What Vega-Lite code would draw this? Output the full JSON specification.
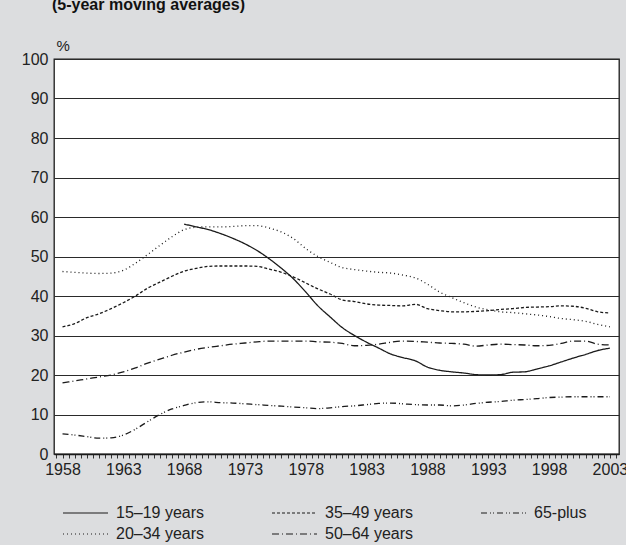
{
  "$schema": "https://vega.github.io/schema/vega-lite/v6.json",
  "autosize": {"type": "none"},
  "width": 565,
  "height": 395,
  "padding": {"left": 54, "top": 59, "right": 7, "bottom": 91},
  "background": "#dcdddf",
  "title": {
    "text": "(5-year moving averages)",
    "anchor": "start",
    "frame": "group",
    "offset": 25,
    "dx": -2,
    "font": "Liberation Sans",
    "fontSize": 16,
    "fontWeight": "bold",
    "color": "#111"
  },
  "config": {
    "view": {"stroke": "#1a1a1a", "strokeWidth": 1.3, "fill": "white"},
    "font": "Liberation Sans"
  },
  "data": {
    "values": [
      {"year":1958,"15–19 years":null,"20–34 years":46.2,"35–49 years":32.2,"50–64 years":18,"65-plus":5.1},
      {"year":1959,"15–19 years":null,"20–34 years":46,"35–49 years":33,"50–64 years":18.5,"65-plus":4.8},
      {"year":1960,"15–19 years":null,"20–34 years":45.8,"35–49 years":34.5,"50–64 years":19,"65-plus":4.4},
      {"year":1961,"15–19 years":null,"20–34 years":45.7,"35–49 years":35.5,"50–64 years":19.5,"65-plus":4},
      {"year":1962,"15–19 years":null,"20–34 years":45.8,"35–49 years":36.8,"50–64 years":20,"65-plus":4.1},
      {"year":1963,"15–19 years":null,"20–34 years":46.5,"35–49 years":38.3,"50–64 years":20.8,"65-plus":4.8},
      {"year":1964,"15–19 years":null,"20–34 years":48.3,"35–49 years":40,"50–64 years":21.8,"65-plus":6.3},
      {"year":1965,"15–19 years":null,"20–34 years":50.5,"35–49 years":42,"50–64 years":23,"65-plus":8.2},
      {"year":1966,"15–19 years":null,"20–34 years":52.8,"35–49 years":43.5,"50–64 years":24,"65-plus":10},
      {"year":1967,"15–19 years":null,"20–34 years":55,"35–49 years":45,"50–64 years":25,"65-plus":11.4},
      {"year":1968,"15–19 years":58.2,"20–34 years":56.8,"35–49 years":46.3,"50–64 years":25.8,"65-plus":12.3},
      {"year":1969,"15–19 years":57.5,"20–34 years":57.4,"35–49 years":47,"50–64 years":26.5,"65-plus":13},
      {"year":1970,"15–19 years":56.8,"20–34 years":57.5,"35–49 years":47.5,"50–64 years":27,"65-plus":13.2},
      {"year":1971,"15–19 years":55.8,"20–34 years":57.5,"35–49 years":47.6,"50–64 years":27.4,"65-plus":13},
      {"year":1972,"15–19 years":54.6,"20–34 years":57.6,"35–49 years":47.6,"50–64 years":27.8,"65-plus":12.9},
      {"year":1973,"15–19 years":53.2,"20–34 years":57.8,"35–49 years":47.6,"50–64 years":28.1,"65-plus":12.7},
      {"year":1974,"15–19 years":51.5,"20–34 years":57.8,"35–49 years":47.5,"50–64 years":28.4,"65-plus":12.5},
      {"year":1975,"15–19 years":49.4,"20–34 years":57.2,"35–49 years":46.8,"50–64 years":28.6,"65-plus":12.3},
      {"year":1976,"15–19 years":47,"20–34 years":56.2,"35–49 years":46,"50–64 years":28.6,"65-plus":12.1},
      {"year":1977,"15–19 years":44.3,"20–34 years":54.5,"35–49 years":44.8,"50–64 years":28.6,"65-plus":11.9},
      {"year":1978,"15–19 years":41,"20–34 years":52,"35–49 years":43.3,"50–64 years":28.6,"65-plus":11.7},
      {"year":1979,"15–19 years":37.5,"20–34 years":50,"35–49 years":41.8,"50–64 years":28.4,"65-plus":11.5},
      {"year":1980,"15–19 years":34.7,"20–34 years":48.5,"35–49 years":40.5,"50–64 years":28.3,"65-plus":11.7},
      {"year":1981,"15–19 years":32,"20–34 years":47.2,"35–49 years":39,"50–64 years":28,"65-plus":12},
      {"year":1982,"15–19 years":30,"20–34 years":46.7,"35–49 years":38.6,"50–64 years":27.4,"65-plus":12.2},
      {"year":1983,"15–19 years":28.3,"20–34 years":46.3,"35–49 years":38,"50–64 years":27.5,"65-plus":12.5},
      {"year":1984,"15–19 years":26.8,"20–34 years":46,"35–49 years":37.7,"50–64 years":27.8,"65-plus":12.8},
      {"year":1985,"15–19 years":25.3,"20–34 years":45.8,"35–49 years":37.6,"50–64 years":28.3,"65-plus":12.9},
      {"year":1986,"15–19 years":24.4,"20–34 years":45.3,"35–49 years":37.5,"50–64 years":28.6,"65-plus":12.7},
      {"year":1987,"15–19 years":23.6,"20–34 years":44.6,"35–49 years":37.9,"50–64 years":28.5,"65-plus":12.5},
      {"year":1988,"15–19 years":22,"20–34 years":43,"35–49 years":36.8,"50–64 years":28.3,"65-plus":12.4},
      {"year":1989,"15–19 years":21.2,"20–34 years":41,"35–49 years":36.3,"50–64 years":28.1,"65-plus":12.4},
      {"year":1990,"15–19 years":20.8,"20–34 years":39.6,"35–49 years":36,"50–64 years":28,"65-plus":12.2},
      {"year":1991,"15–19 years":20.5,"20–34 years":38.3,"35–49 years":36,"50–64 years":27.8,"65-plus":12.4},
      {"year":1992,"15–19 years":20.1,"20–34 years":37.2,"35–49 years":36.1,"50–64 years":27.3,"65-plus":12.8},
      {"year":1993,"15–19 years":20,"20–34 years":36.5,"35–49 years":36.3,"50–64 years":27.6,"65-plus":13.1},
      {"year":1994,"15–19 years":20.1,"20–34 years":36,"35–49 years":36.6,"50–64 years":27.8,"65-plus":13.3},
      {"year":1995,"15–19 years":20.7,"20–34 years":35.8,"35–49 years":36.8,"50–64 years":27.7,"65-plus":13.6},
      {"year":1996,"15–19 years":20.8,"20–34 years":35.5,"35–49 years":37.1,"50–64 years":27.6,"65-plus":13.8},
      {"year":1997,"15–19 years":21.5,"20–34 years":35.2,"35–49 years":37.2,"50–64 years":27.4,"65-plus":14},
      {"year":1998,"15–19 years":22.3,"20–34 years":34.8,"35–49 years":37.3,"50–64 years":27.5,"65-plus":14.3},
      {"year":1999,"15–19 years":23.3,"20–34 years":34.3,"35–49 years":37.5,"50–64 years":28,"65-plus":14.4},
      {"year":2000,"15–19 years":24.3,"20–34 years":34,"35–49 years":37.4,"50–64 years":28.6,"65-plus":14.5},
      {"year":2001,"15–19 years":25.2,"20–34 years":33.6,"35–49 years":36.9,"50–64 years":28.6,"65-plus":14.5},
      {"year":2002,"15–19 years":26.2,"20–34 years":32.8,"35–49 years":36,"50–64 years":27.8,"65-plus":14.5},
      {"year":2003,"15–19 years":26.8,"20–34 years":32.2,"35–49 years":35.7,"50–64 years":27.6,"65-plus":14.5}
    ]
  },
  "transform": [
    {"fold": ["15–19 years", "20–34 years", "35–49 years", "50–64 years", "65-plus"], "as": ["group", "value"]},
    {"filter": "datum.value != null"}
  ],
  "mark": {"type": "line", "color": "#1a1a1a", "strokeWidth": 1.3, "interpolate": "monotone"},
  "encoding": {
    "x": {
      "field": "year",
      "type": "quantitative",
      "scale": {"domain": [1957.3, 2003.75], "nice": false, "zero": false},
      "axis": {
        "title": null,
        "grid": false,
        "tickCount": 100,
        "labelExpr": "datum.value % 5 == 3 ? datum.value : ''",
        "labelOverlap": false,
        "labelFlush": false,
        "labelFont": "Liberation Sans",
        "labelFontSize": 16,
        "labelColor": "#222",
        "labelPadding": 3,
        "labelDx": 2,
        "tickSize": 4,
        "tickColor": "#333",
        "tickWidth": 1,
        "domainColor": "#1a1a1a",
        "domainWidth": 1.3
      }
    },
    "y": {
      "field": "value",
      "type": "quantitative",
      "scale": {"domain": [0, 100], "nice": false},
      "axis": {
        "title": "%",
        "titleAngle": 0,
        "titleAlign": "left",
        "titleBaseline": "alphabetic",
        "titleX": 2,
        "titleY": -9,
        "titleFont": "Liberation Sans",
        "titleFontSize": 15,
        "titleFontWeight": "normal",
        "titleColor": "#222",
        "values": [0, 10, 20, 30, 40, 50, 60, 70, 80, 90, 100],
        "grid": true,
        "gridColor": "#2a2a2a",
        "gridWidth": 1.2,
        "ticks": false,
        "domain": false,
        "labelFont": "Liberation Sans",
        "labelFontSize": 16,
        "labelColor": "#222",
        "labelPadding": 6
      }
    },
    "strokeDash": {
      "field": "group",
      "type": "nominal",
      "scale": {
        "domain": ["15–19 years", "20–34 years", "35–49 years", "50–64 years", "65-plus"],
        "range": [[1, 0], [1, 3], [3, 2], [7, 3, 1, 3], [6, 3, 1, 2, 1, 3]]
      },
      "legend": {
        "title": null,
        "orient": "none",
        "legendX": 8,
        "legendY": 445,
        "columns": 3,
        "columnPadding": 64,
        "rowPadding": 4,
        "symbolType": "stroke",
        "symbolSize": 2025,
        "symbolStrokeWidth": 1.2,
        "symbolStrokeColor": "#1a1a1a",
        "labelFont": "Liberation Sans",
        "labelFontSize": 16,
        "labelColor": "#222",
        "labelOffset": 7,
        "labelLimit": 300,
        "encode": {
          "symbols": {"update": {"y": {"value": 9}}},
          "labels": {"update": {"y": {"value": 9}}}
        }
      }
    }
  }
}
